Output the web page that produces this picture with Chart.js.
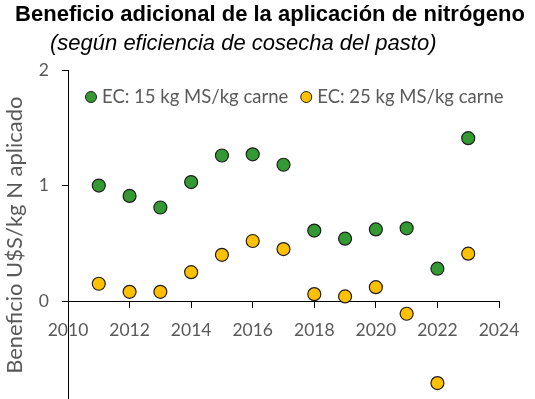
<!DOCTYPE html>
<html>
<head>
<meta charset="utf-8">
<script src="https://cdn.jsdelivr.net/npm/chart.js@4"></script>
<style>
  html, body { margin: 0; padding: 0; background: #fff; overflow: hidden; }
  #wrap { width: 535px; height: 399px; position: relative; overflow: hidden; }
</style>
</head>
<body>
<div id="wrap"><canvas id="chart" width="535" height="408"></canvas></div>
<script>
// Data
const years = [2011, 2012, 2013, 2014, 2015, 2016, 2017, 2018, 2019, 2020, 2021, 2022, 2023];
const ec15 = [1.00, 0.91, 0.81, 1.03, 1.26, 1.27, 1.18, 0.61, 0.54, 0.62, 0.63, 0.28, 1.41];
const ec25 = [0.15, 0.08, 0.08, 0.25, 0.40, 0.52, 0.45, 0.06, 0.04, 0.12, -0.11, -0.71, 0.41];
const seriesNames = ['EC: 15 kg MS/kg carne', 'EC: 25 kg MS/kg carne'];
const titleText = 'Beneficio adicional de la aplicación de nitrógeno';
const subtitleText = '(según eficiencia de cosecha del pasto)';
const yTitle = 'Beneficio U$S/kg N aplicado';

const grayText = '#595959';
Chart.defaults.font.family = 'Lato';

function toPoints(vals) {
    return years.map((yr, i) => ({ x: yr, y: vals[i] }));
}

// Titles + legend drawn inside the plot (like the original)
const extras = {
    id: 'extras',
    afterDraw(chart) {
        const ctx = chart.ctx;
        ctx.save();
        ctx.fillStyle = '#000';
        ctx.textBaseline = 'middle';
        ctx.textAlign = 'center';
        ctx.font = 'bold 22px "Liberation Sans"';
        ctx.fillText(titleText, 270, 15);
        ctx.textAlign = 'left';
        ctx.font = 'italic 22px "Liberation Sans"';
        ctx.fillText(subtitleText, 50, 44);

        // legend
        let x = chart.chartArea.left + 23;
        const y = 97;
        ctx.font = '18.5px Lato';
        chart.data.datasets.forEach(ds => {
            ctx.beginPath();
            ctx.arc(x, y, 5.5, 0, Math.PI * 2);
            ctx.fillStyle = ds.backgroundColor;
            ctx.fill();
            ctx.lineWidth = 1;
            ctx.strokeStyle = ds.borderColor;
            ctx.stroke();
            ctx.fillStyle = grayText;
            ctx.fillText(ds.label, x + 11, y);
            x += 11 + ctx.measureText(ds.label).width + 18;
        });
        ctx.restore();
    }
};

const ctx = document.getElementById('chart').getContext('2d');
const chart = new Chart(ctx, {
    type: 'scatter',
    data: {
        datasets: [{
            label: seriesNames[0],
            data: toPoints(ec15),
            backgroundColor: '#339933',
            borderColor: '#1e1e1e',
            borderWidth: 1.2,
            pointRadius: 6.5,
            pointHoverRadius: 6.5
        }, {
            label: seriesNames[1],
            data: toPoints(ec25),
            backgroundColor: '#FFC000',
            borderColor: '#1e1e1e',
            borderWidth: 1.2,
            pointRadius: 6.5,
            pointHoverRadius: 6.5
        }]
    },
    options: {
        responsive: false,
        animation: false,
        layout: { padding: { top: 70, left: 0, right: 36, bottom: 0 } },
        plugins: {
            legend: { display: false },
            title: { display: false },
            tooltip: { enabled: false }
        },
        scales: {
            x: {
                type: 'linear',
                position: { y: 0 },
                min: 2010,
                max: 2024,
                ticks: { stepSize: 2, color: grayText, font: { size: 17.5 }, padding: 13, maxRotation: 0,
                         callback: v => String(v) },
                grid: { drawOnChartArea: false, drawTicks: true, tickLength: 6, color: '#000' },
                border: { color: '#000', width: 1 }
            },
            y: {
                type: 'linear',
                min: -0.859,
                max: 2,
                ticks: { stepSize: 1, includeBounds: false, color: grayText, font: { size: 17.5 }, padding: 13, crossAlign: 'near' },
                grid: { drawOnChartArea: false, drawTicks: true, tickLength: 6, color: '#000' },
                border: { color: '#000', width: 1 },
                title: { display: true, text: yTitle, color: grayText, font: { size: 22 }, padding: { top: 2, bottom: 0 } },
                afterFit(scale) {
                    scale.width = 68;
                    scale.paddingTop = 0;
                    scale.paddingBottom = 0;
                }
            }
        }
    },
    plugins: [extras]
});
</script>
</body>
</html>
